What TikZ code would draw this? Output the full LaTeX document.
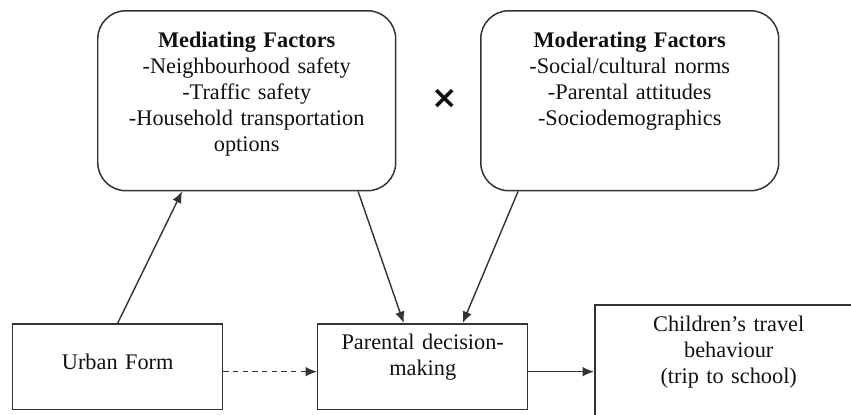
\documentclass[tikz,border=0pt]{standalone}
\usepackage{fontspec}
\setmainfont{Liberation Serif}
\newfontfamily\ctrsymbols{DejaVu Sans}
\usetikzlibrary{arrows.meta,calc}
\definecolor{ctrInk}{HTML}{333333}
\definecolor{ctrText}{HTML}{111111}
\tikzset{
  ctr factor/.style={draw=ctrInk, line width=0.85pt, rounded corners=16pt, inner sep=0pt, text width=5.96cm, align=center, text height=0.73cm, text depth=2.87cm, text=ctrText},
  ctr box/.style={draw=ctrInk, line width=0.85pt, inner sep=0pt, align=center, text=ctrText},
  ctr link/.style={draw=ctrInk, line width=0.8pt, -{Latex[length=6.5pt, width=5.5pt]}},
  ctr dashed link/.style={ctr link, dash pattern=on 3pt off 2.5pt},
}

\begin{document}
\begin{tikzpicture}[x=0.02cm, y=-0.02cm, font=\fontsize{12.7}{14.8}\selectfont]
  % Page: 851 x 414 units, y running downwards
  \useasboundingbox (0,0) rectangle (851,414);
  \clip (0,0) rectangle (851,414);

  % Factor boxes
  \node[ctr factor, anchor=north west] (med) at (97,10)
    {\textbf{Mediating Factors}\\-Neighbourhood safety\\-Traffic safety\\-Household transportation\\options};
  \node[ctr factor, anchor=north west] (mod) at (480,10)
    {\textbf{Moderating Factors}\\-Social/cultural norms\\-Parental attitudes\\-Sociodemographics};
  \node[text=ctrText, font=\ctrsymbols\bfseries\fontsize{18}{18}\selectfont] (times) at (445,99) {×};

  % Bottom row
  \node[ctr box, anchor=north west, text width=4.2cm, text height=0.92cm, text depth=0.8cm] (urban) at (12,323) {Urban Form};
  \node[ctr box, anchor=north west, text width=4.2cm, text height=0.52cm, text depth=1.2cm] (par) at (317,323) {Parental decision-\\making};
  \node[ctr box, anchor=north west, text width=5.36cm, text height=0.54cm, text depth=2.6cm] (child) at (594,304) {Children’s travel\\behaviour\\(trip to school)};

  % Links
  \draw[ctr link] (urban.north) -- ($(med.south west)!0.284!(med.south east)$);
  \draw[ctr link] ($(med.south west)!0.872!(med.south east)$) -- ($(par.north west)!0.41!(par.north east)$);
  \draw[ctr link] ($(mod.south west)!0.127!(mod.south east)$) -- ($(par.north west)!0.689!(par.north east)$);

  \coordinate (urban out) at ([yshift=-2.8pt]urban.east);
  \coordinate (par out) at ([yshift=-2.8pt]par.east);
  \draw[ctr dashed link] (urban out) -- (urban out -| par.west);
  \draw[ctr link] (par out) -- (par out -| child.west);
\end{tikzpicture}
\end{document}
